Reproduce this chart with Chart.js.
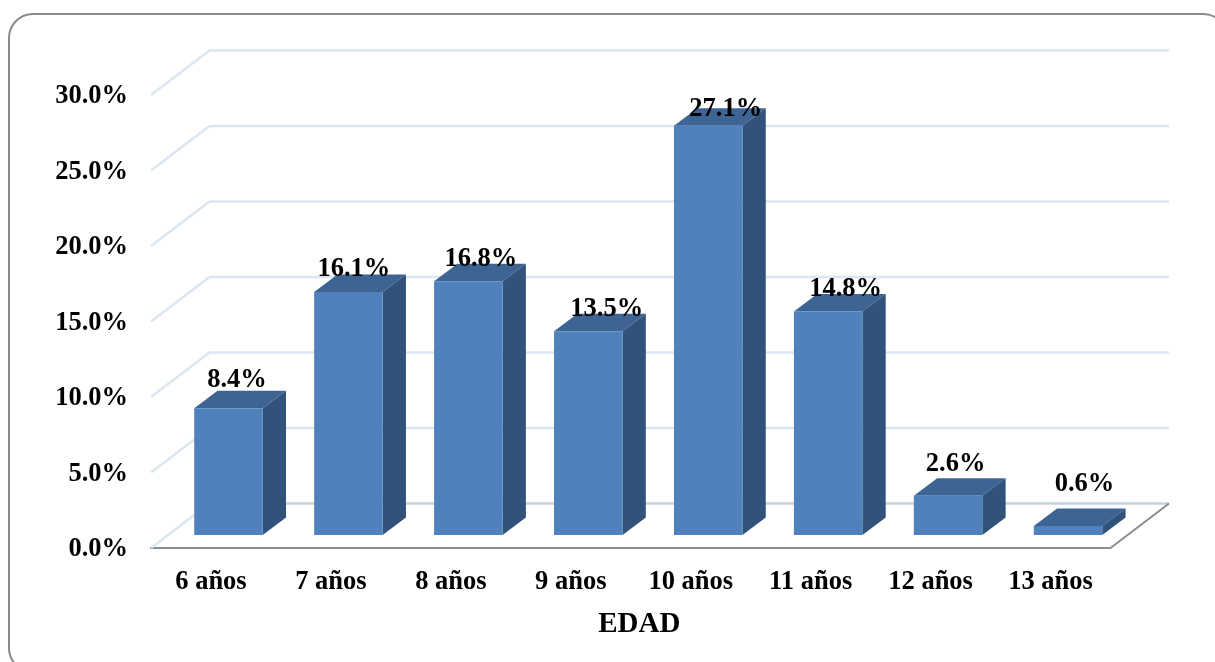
<!DOCTYPE html>
<html lang="es">
<head>
<meta charset="utf-8">
<title>EDAD</title>
<script src="https://cdn.jsdelivr.net/npm/chart.js@4"></script>
<style>
  html, body { margin: 0; padding: 0; background: #fff; overflow: hidden; }
  #wrap { position: relative; width: 1215px; height: 662px; overflow: hidden; }
  #frame {
    position: absolute; left: 8px; top: 13px; width: 1220px; height: 660px;
    border: 2px solid #8a8a8a; border-radius: 25px; box-sizing: border-box;
  }
  canvas { position: absolute; left: 0; top: 0; }
</style>
</head>
<body>
<div id="wrap">
  <div id="frame"></div>
  <canvas id="chart" width="1215" height="662"></canvas>
</div>
<script>
const categories = ["6 años", "7 años", "8 años", "9 años", "10 años", "11 años", "12 años", "13 años"]
const percentages = [8.4, 16.1, 16.8, 13.5, 27.1, 14.8, 2.6, 0.6]
const axisTitle = "EDAD"

// hand placed value labels, relative to the middle of each bar top
const labelShiftX = [8.5, 5.5, 12.5, 18.5, 17.5, 17.5, 7.5, 16.5]
const labelShiftY = [-28, -23, -22, -22, -17, -22, -32, -42]

const font = "'Liberation Serif', 'Times New Roman', serif"

// fake 3D: floor depth, where the bars stand on it, and how deep they are
const wall = { dx: 58.5, dy: -44.5 }
const stand = { dx: 17.5, dy: -13 }
const depth = { dx: 23.3, dy: -17.5 }

const line = (ctx, x1, y1, x2, y2) => {
  ctx.beginPath()
  ctx.moveTo(x1, y1)
  ctx.lineTo(x2, y2)
  ctx.stroke()
}

const face = (ctx, points, color) => {
  ctx.fillStyle = color
  ctx.beginPath()
  points.forEach((p, i) => i ? ctx.lineTo(p[0], p[1]) : ctx.moveTo(p[0], p[1]))
  ctx.closePath()
  ctx.fill()
}

const box3d = {
  id: "box3d",
  beforeDatasetsDraw(chart) {
    const { ctx, chartArea, scales } = chart
    const { left, right } = chartArea

    // back wall and left side lines for each tick
    ctx.save()
    ctx.lineWidth = 2.5
    scales.y.getTicks().forEach(tick => {
      const y = scales.y.getPixelForValue(tick.value)
      ctx.strokeStyle = "#dce6f2"
      line(ctx, left, y, left + wall.dx, y + wall.dy)
      ctx.strokeStyle = tick.value === 0 ? "#c8d1dc" : "#dce6f2"
      line(ctx, left + wall.dx, y + wall.dy, right + wall.dx, y + wall.dy)
    })
    const floorY = scales.y.getPixelForValue(0)
    ctx.lineWidth = 2
    ctx.strokeStyle = "#8c8c8c"
    line(ctx, right, floorY, right + wall.dx, floorY + wall.dy)
    ctx.restore()

    // the library draws the front faces inside this translate
    ctx.save()
    ctx.translate(stand.dx, stand.dy)
    chart.getDatasetMeta(0).data.forEach(bar => {
      const l = bar.x - bar.width / 2
      const r = bar.x + bar.width / 2
      const t = bar.y
      const b = bar.base
      face(ctx, [[l, t], [l + depth.dx, t + depth.dy], [r + depth.dx, t + depth.dy], [r, t]], "#3e6494")
      face(ctx, [[r, t], [r + depth.dx, t + depth.dy], [r + depth.dx, b + depth.dy], [r, b]], "#31527a")
    })
  },
  afterDatasetsDraw(chart) {
    const { ctx, chartArea } = chart
    ctx.restore()

    ctx.save()
    ctx.font = "bold 26.5px " + font
    ctx.fillStyle = "#000"
    ctx.textAlign = "center"
    ctx.textBaseline = "middle"
    chart.getDatasetMeta(0).data.forEach((bar, i) => {
      const x = bar.x + stand.dx + labelShiftX[i]
      const y = bar.y + stand.dy + labelShiftY[i]
      ctx.fillText(percentages[i].toFixed(1) + "%", x, y)
    })

    // axis title sits a little right of the axis middle
    ctx.font = "bold 29px " + font
    ctx.fillText(axisTitle, (chartArea.left + chartArea.right) / 2 + 8.5, chartArea.bottom + 77)
    ctx.restore()
  }
}

const ctx = document.getElementById("chart").getContext("2d")
const myChart = new Chart(ctx, {
  type: "bar",
  data: {
    labels: categories,
    datasets: [{
      data: percentages,
      backgroundColor: "#4f81bd",
      borderWidth: 0,
      categoryPercentage: 1,
      barPercentage: 0.571,
      clip: false
    }]
  },
  options: {
    responsive: false,
    animation: false,
    layout: { padding: { top: 95, right: 104.5, left: 0, bottom: 0 } },
    plugins: { legend: { display: false }, tooltip: { enabled: false } },
    scales: {
      x: {
        afterFit: scale => { scale.height = 114 },
        grid: { display: false },
        border: { color: "#8c8c8c", width: 2 },
        ticks: { color: "#000", padding: 10, maxRotation: 0, autoSkip: false, font: { family: font, size: 26.5, weight: "bold" } }
      },
      y: {
        min: 0,
        max: 30,
        afterFit: scale => { scale.width = 151 },
        grid: { display: false },
        border: { display: false },
        ticks: {
          stepSize: 5,
          color: "#000",
          padding: 15,
          labelOffset: 1.5,
          font: { family: font, size: 26.5, weight: "bold" },
          callback: v => v.toFixed(1) + "%"
        }
      }
    }
  },
  plugins: [box3d]
})
</script>
</body>
</html>
